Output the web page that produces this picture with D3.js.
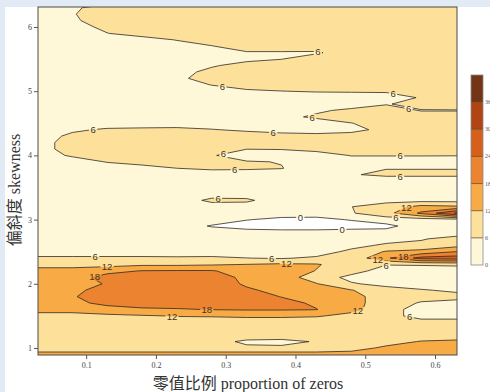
<!DOCTYPE html>
<meta charset="utf-8">
<script src="https://cdn.jsdelivr.net/npm/d3@7"></script>
<style>
  body { margin: 0; background: #e1eaf5; }
  svg { display: block; }
</style>
<svg id="chart" width="490" height="392"></svg>
<script>

// grid of the surface
var xVals = [0.03, 0.08, 0.13, 0.18, 0.23, 0.28, 0.33, 0.38, 0.43, 0.48, 0.53, 0.58, 0.63];
var yVals = [6.3, 6.2, 6.1, 6.0, 5.9, 5.8, 5.7, 5.6, 5.5, 5.4, 5.3, 5.2, 5.1, 5.0,
             4.9, 4.8, 4.7, 4.6, 4.5, 4.4, 4.3, 4.2, 4.1, 4.0, 3.9, 3.8, 3.7, 3.6,
             3.5, 3.4, 3.3, 3.2, 3.1, 3.0, 2.9, 2.8, 2.7, 2.6, 2.5, 2.4, 2.3, 2.2,
             2.1, 2.0, 1.9, 1.8, 1.7, 1.6, 1.5, 1.4, 1.3, 1.2, 1.1, 1.0, 0.9];
var zRows = [
  [3, 4.8, 9, 9, 9, 9, 9, 9, 9, 9, 9, 9, 9],
  [3, 5.6, 9, 9, 9, 9, 9, 9, 9, 9, 9, 9, 9],
  [3, 5, 9, 9, 9, 9, 9, 9, 9, 9, 9, 9, 9],
  [3, 3, 7.8, 9, 9, 9, 9, 9, 9, 9, 9, 9, 9],
  [3, 3, 5.8, 9, 9, 9, 9, 9, 9, 9, 9, 9, 9],
  [3, 3, 3, 3, 6.3, 9, 9, 9, 9, 9, 9, 9, 9],
  [3, 3, 3, 3, 3, 5.7, 9, 9, 9, 9, 9, 9, 9],
  [3, 3, 3, 3, 3, 3, 5.4, 5.4, 5.3, 9, 9, 9, 9],
  [3, 3, 3, 3, 3, 3, 4, 5.9, 9, 9, 9, 9, 9],
  [3, 3, 3, 3, 3, 5.1, 9, 9, 9, 9, 9, 9, 9],
  [3, 3, 3, 3, 3, 8.3, 9, 9, 9, 9, 9, 9, 9],
  [3, 3, 3, 3, 4.5, 9, 9, 9, 9, 9, 9, 9, 9],
  [3, 3, 3, 3, 3, 6.2, 9, 9, 9, 9, 9, 9, 9],
  [3, 3, 3, 3, 3, 3, 4.9, 5.9, 6.5, 6.6, 6.8, 9, 9],
  [3, 3, 3, 3, 3, 3, 3, 3, 2.5, 3, 3, 6.5, 9],
  [3, 3, 3, 3, 3, 3, 3, 3, 3, 3, 5.6, 8, 9],
  [3, 3, 3, 3, 3, 3, 3, 3, 5, 7.3, 9, 5.7, 5.7],
  [3, 3, 3, 3, 3, 3, 3, 4.3, 7, 9, 9, 9, 9],
  [3, 3, 3, 3, 3, 3, 3, 3, 3, 5.8, 9, 9, 9],
  [3, 5, 6.8, 7.2, 7.5, 6.3, 5, 4.5, 4.5, 4.5, 7.5, 9, 9],
  [3, 7.3, 9, 9, 9, 9, 9, 7.5, 7, 8, 9, 9, 9],
  [3, 9, 9, 9, 9, 9, 9, 9, 9, 9, 9, 9, 9],
  [3, 9, 9, 9, 9, 9, 6.1, 6.3, 8, 9, 9, 9, 9],
  [3, 6.8, 9, 9, 9, 6.5, 3, 3, 3, 6.3, 6.3, 6.3, 6.2],
  [3, 3, 6.3, 9, 9, 9, 6.4, 5.8, 3, 3, 3, 3, 3],
  [3, 3, 3, 3, 6, 7, 6.8, 6.2, 3, 3, 5.8, 5.8, 5.8],
  [3, 3, 3, 3, 3, 3, 3, 3, 3, 5.6, 7, 7, 7],
  [3, 3, 3, 3, 3, 3, 3, 3, 3, 3, 3, 3, 3],
  [3, 3, 3, 3, 3, 3, 3, 3, 3, 3, 3, 3, 3],
  [3, 3, 3, 3, 3, 2, 2, 3, 3, 3, 3, 3, 3],
  [3, 3, 3, 3, 1, 8, 7.5, 1, 3, 3, 4, 4, 4],
  [3, 3, 3, 3, 3, 2, 2, 3, 3, 5.9, 9, 14, 13],
  [3, 3, 3, 3, 3, 3, 2, 2, 2, 5.5, 10, 19, 30.5],
  [3, 3, 3, 3, 3, 2, 0.2, -1, -1.2, 0.3, 3, 3, 4],
  [3, 3, 3, 3, 2, -0.3, -2, -3, -3, -2, -1.5, 3, 3],
  [3, 3, 3, 3, 3, 2, 2, 2, 2, 2, 2, 3, 3],
  [3, 3, 3, 3, 3, 3, 3, 3, 3, 3, 3.5, 5.5, 8],
  [3, 3, 3, 3, 3, 3, 3, 3, 3, 4, 7, 7.5, 10],
  [3, 3, 3, 3, 3, 3, 3, 3, 3, 7.5, 12.5, 14, 18],
  [7, 7, 7, 7, 6.8, 7, 6.1, 5.5, 7, 8, 17, 26, 27],
  [10, 10, 10, 11, 11, 11.5, 12.2, 13, 12.5, 9, 6.2, 6.5, 7],
  [14, 14, 16, 18.3, 18.5, 18.5, 15, 15, 11.8, 8, 3.7, 3, 2.7],
  [15, 15, 20.5, 21, 22, 22, 16, 15, 9, 4.5, 3, 3, 3],
  [15, 15, 18.5, 22, 22, 22, 17, 15.5, 12.3, 6.5, 4.5, 3, 3],
  [15, 15.5, 22, 22, 22, 22, 19, 16, 14, 12.3, 8, 6.5, 5],
  [15, 17.5, 21, 22, 22, 22, 21, 17.8, 15, 14, 9, 8, 8],
  [15, 16, 20, 21, 21, 21, 20, 20, 17, 14, 9, 5.5, 4],
  [14, 14, 15, 17, 17.5, 18.2, 18.5, 18.5, 18.2, 13.5, 9, 3, 3],
  [10, 10, 11, 11.5, 12.3, 12.5, 13, 13, 12.5, 10.5, 9, 3, 3],
  [9, 9, 9, 9, 9, 9, 9, 9, 9, 9, 9, 9, 9],
  [9, 9, 9, 9, 9, 9, 9, 9, 9, 9, 9, 9, 9],
  [9, 9, 9, 9, 9, 9, 9, 9, 9, 9, 9, 9, 9],
  [8, 8, 8, 8, 8, 8, 5, 4.5, 6.4, 9, 10, 12.3, 13],
  [7, 7, 7, 7, 7, 7, 7, 7, 7, 10, 13, 14, 15],
  [15, 15, 15, 15, 15, 15, 15, 15, 15, 14, 15, 15, 15]
];

var levels = [0, 6, 12, 18, 24, 30, 36];
var bandColors = ["#fef8d9", "#fde19b", "#f8aa45", "#eb8330", "#d65f1b", "#b14412", "#733515"];
var xTicks = [0.1, 0.2, 0.3, 0.4, 0.5, 0.6];
var yTicks = [1, 2, 3, 4, 5, 6];
var legendTicks = [0, 6, 12, 18, 24, 30, 36];
var legendTop = 42;

// contour labels: [x, y, level]
var contourLabels = [
  [0.432, 5.61, 6], [0.295, 5.05, 6], [0.540, 4.97, 6], [0.424, 4.60, 6],
  [0.561, 4.66, 6], [0.110, 4.40, 6], [0.368, 4.33, 6], [0.295, 4.12, 6],
  [0.550, 3.98, 6], [0.313, 3.74, 6], [0.550, 3.65, 6], [0.289, 3.32, 6],
  [0.561, 3.15, 12], [0.544, 3.02, 6], [0.407, 3.02, 0], [0.467, 2.85, 0],
  [0.113, 2.42, 6], [0.130, 2.29, 12], [0.111, 2.17, 18], [0.366, 2.39, 6],
  [0.387, 2.34, 12], [0.554, 2.48, 18], [0.518, 2.37, 12], [0.530, 2.31, 6],
  [0.273, 1.59, 18], [0.223, 1.47, 12], [0.490, 1.55, 12], [0.564, 1.51, 6]
];

var svg = d3.select("#chart");
var pLeft = 38, pRight = 457, pTop = 7, pBottom = 355;

svg.append("rect")
    .attr("x", 5).attr("y", 7)
    .attr("width", 485).attr("height", 385)
    .attr("fill", "#ffffff");

var x = d3.scaleLinear().domain([0.031, 0.6315]).range([pLeft, pRight]);
var y = d3.scaleLinear().domain([0.891, 6.3115]).range([pBottom, pTop]);

var nx = xVals.length, ny = yVals.length;
// grid cell centres sit at i + 0.5 in d3.contours space
var gx = d3.scaleLinear().domain([0.5, nx - 0.5]).range([x(xVals[0]), x(xVals[nx - 1])]);
var gy = d3.scaleLinear().domain([0.5, ny - 0.5]).range([y(yVals[0]), y(yVals[ny - 1])]);

function ringPath(ring) {
  return "M" + ring.map(function(p) { return gx(p[0]).toFixed(2) + "," + gy(p[1]).toFixed(2); }).join("L") + "Z";
}
function contourPath(c) {
  return c.coordinates.map(function(poly) { return poly.map(ringPath).join(""); }).join("");
}

var flat = [].concat.apply([], zRows);
var contours = d3.contours().size([nx, ny]).thresholds(levels)(flat);

var defs = svg.append("defs");
defs.append("clipPath").attr("id", "plotClip")
  .append("rect")
    .attr("x", pLeft).attr("y", pTop)
    .attr("width", pRight - pLeft).attr("height", pBottom - pTop);

var plot = svg.append("g").attr("clip-path", "url(#plotClip)");

plot.append("rect")
    .attr("x", pLeft).attr("y", pTop)
    .attr("width", pRight - pLeft).attr("height", pBottom - pTop)
    .attr("fill", "#ffffff");

plot.selectAll("path.band")
  .data(contours)
  .enter()
  .append("path")
    .attr("class", "band")
    .attr("d", contourPath)
    .attr("fill-rule", "evenodd")
    .attr("fill", function(d, i) { return bandColors[i]; });

// place every label on the nearest point of its contour
function nearestOnContour(lx, ly, level) {
  var c = contours.find(function(d) { return d.value === level; });
  var tx = x(lx), ty = y(ly), best = null, bestD = Infinity;
  c.coordinates.forEach(function(poly) {
    poly.forEach(function(ring) {
      for (var k = 0; k < ring.length - 1; k++) {
        var ax = gx(ring[k][0]), ay = gy(ring[k][1]);
        var bx = gx(ring[k + 1][0]), by = gy(ring[k + 1][1]);
        var dx = bx - ax, dy = by - ay, L = dx * dx + dy * dy;
        var t = L > 0 ? Math.max(0, Math.min(1, ((tx - ax) * dx + (ty - ay) * dy) / L)) : 0;
        var px = ax + t * dx, py = ay + t * dy;
        if (px < pLeft + 3 || px > pRight - 3 || py < pTop + 3 || py > pBottom - 3) continue;
        var dd = (px - tx) * (px - tx) + (py - ty) * (py - ty);
        if (dd < bestD) { bestD = dd; best = [px, py]; }
      }
    });
  });
  return best || [tx, ty];
}

var labelPos = contourLabels.map(function(d) {
  var p = nearestOnContour(d[0], d[1], d[2]);
  return { x: p[0], y: p[1], text: String(d[2]) };
});

var mask = defs.append("mask").attr("id", "lineMask")
    .attr("maskUnits", "userSpaceOnUse")
    .attr("x", 0).attr("y", 0).attr("width", 490).attr("height", 392);
mask.append("rect")
    .attr("x", 0).attr("y", 0).attr("width", 490).attr("height", 392)
    .attr("fill", "#fff");
mask.selectAll("rect.hole")
  .data(labelPos)
  .enter()
  .append("rect")
    .attr("class", "hole")
    .attr("x", function(d) { return d.x - (d.text.length * 2.6 + 1.5); })
    .attr("y", function(d) { return d.y - 4; })
    .attr("width", function(d) { return d.text.length * 5.2 + 3; })
    .attr("height", 8)
    .attr("fill", "#000");

plot.append("g")
    .attr("mask", "url(#lineMask)")
  .selectAll("path")
  .data(contours)
  .enter()
  .append("path")
    .attr("d", contourPath)
    .attr("fill", "none")
    .attr("stroke", "#2e2a26")
    .attr("stroke-width", 0.8);

plot.selectAll("text.clabel")
  .data(labelPos)
  .enter()
  .append("text")
    .attr("class", "clabel")
    .attr("x", function(d) { return d.x; })
    .attr("y", function(d) { return d.y; })
    .attr("text-anchor", "middle")
    .attr("dominant-baseline", "central")
    .style("font-family", "Liberation Sans, Arial, sans-serif")
    .style("font-size", "9.5px")
    .style("fill", "#3a342c")
    .text(function(d) { return d.text; });

// plot frame
svg.append("rect")
    .attr("x", pLeft).attr("y", pTop)
    .attr("width", pRight - pLeft).attr("height", pBottom - pTop)
    .attr("fill", "none")
    .attr("stroke", "#4a4a4a")
    .attr("stroke-width", 1);

// axes
var xAxis = svg.append("g")
    .attr("transform", "translate(0," + pBottom + ")")
    .call(d3.axisBottom(x).tickValues(xTicks).tickSize(4).tickPadding(3).tickFormat(d3.format(".1f")));
var yAxis = svg.append("g")
    .attr("transform", "translate(" + pLeft + ",0)")
    .call(d3.axisLeft(y).tickValues(yTicks).tickSize(4).tickPadding(2).tickFormat(d3.format("d")));
[xAxis, yAxis].forEach(function(a) {
  a.select(".domain").remove();
  a.selectAll("line").attr("stroke", "#555");
  a.selectAll("text")
    .style("font-family", "Liberation Serif, Times New Roman, serif")
    .style("font-size", "8px")
    .style("fill", "#444");
});

svg.append("text")
    .attr("x", 248)
    .attr("y", 389)
    .attr("text-anchor", "middle")
    .style("font-family", "Liberation Serif, Noto Sans CJK SC, serif")
    .style("font-size", "16px")
    .style("fill", "#333")
    .text("零值比例  proportion of zeros");

svg.append("text")
    .attr("transform", "translate(20,190) rotate(-90)")
    .attr("text-anchor", "middle")
    .style("font-family", "Liberation Serif, Noto Sans CJK SC, serif")
    .style("font-size", "16px")
    .style("fill", "#333")
    .text("偏斜度  skewness");

// colour key
var ly = d3.scaleLinear().domain([0, legendTop]).range([265, 75]);
var keyX = 471, keyW = 12;
var bandEdges = levels.concat([legendTop]);
svg.selectAll("rect.key")
  .data(levels)
  .enter()
  .append("rect")
    .attr("class", "key")
    .attr("x", keyX)
    .attr("y", function(d, i) { return ly(bandEdges[i + 1]); })
    .attr("width", keyW)
    .attr("height", function(d, i) { return ly(bandEdges[i]) - ly(bandEdges[i + 1]); })
    .attr("fill", function(d, i) { return bandColors[i]; });
svg.selectAll("line.keysep")
  .data(levels.slice(1))
  .enter()
  .append("line")
    .attr("class", "keysep")
    .attr("x1", keyX).attr("x2", keyX + keyW)
    .attr("y1", function(d) { return ly(d); })
    .attr("y2", function(d) { return ly(d); })
    .attr("stroke", "#6b4a26")
    .attr("stroke-width", 0.8);
svg.append("rect")
    .attr("x", keyX).attr("y", ly(legendTop))
    .attr("width", keyW).attr("height", ly(0) - ly(legendTop))
    .attr("fill", "none")
    .attr("stroke", "#8a8a8a")
    .attr("stroke-width", 0.8);
svg.selectAll("text.keylab")
  .data(legendTicks)
  .enter()
  .append("text")
    .attr("class", "keylab")
    .attr("x", keyX + keyW + 2)
    .attr("y", function(d) { return ly(d); })
    .attr("dominant-baseline", "central")
    .style("font-family", "Liberation Serif, serif")
    .style("font-size", "6px")
    .style("fill", "#555")
    .text(function(d) { return d; });

</script>
